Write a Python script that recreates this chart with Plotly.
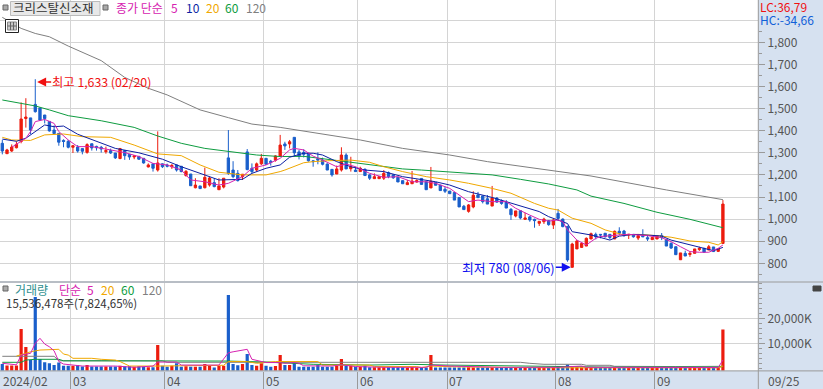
import plotly.graph_objects as go

W, H = 823, 389
opens = [1343,1296,1308,1323,1351,1455,1458,1519,1503,1471,
1442,1403,1388,1356,1352,1325,1326,1319,1302,1341,
1329,1325,1305,1310,1299,1274,1310,1293,1281,1284,
1275,1236,1250,1222,1250,1245,1237,1245,1239,1197,
1204,1142,1150,1142,1154,1165,1133,1145,1277,1222,
1207,1192,1304,1230,1222,1250,1275,1262,1266,1285,
1340,1340,1370,1304,1302,1298,1264,1273,1267,1249,
1225,1204,1222,1290,1228,1222,1215,1225,1200,1183,
1183,1185,1210,1200,1189,1174,1156,1160,1168,1184,
1169,1141,1166,1154,1135,1127,1120,1098,1058,1035,
1055,1109,1105,1092,1059,1095,1083,1077,1044,1014,
1038,999,1010,999,981,988,993,973,1026,1000,
966,782,865,872,878,910,931,931,936,931,
910,945,946,928,928,914,925,916,907,910,
926,908,890,875,816,845,840,845,862,868,
860,874,854,890]
closes = [1308,1313,1326,1338,1453,1462,1403,1486,1448,1455,
1399,1387,1348,1351,1325,1332,1308,1307,1337,1322,
1323,1317,1310,1299,1277,1319,1287,1281,1286,1271,
1254,1245,1230,1254,1237,1239,1243,1222,1215,1216,
1151,1154,1138,1189,1186,1147,1150,1185,1207,1192,
1174,1203,1224,1215,1250,1275,1248,1256,1286,1335,
1331,1350,1300,1285,1293,1264,1260,1267,1248,1222,
1200,1227,1290,1227,1237,1215,1230,1197,1185,1192,
1192,1207,1192,1187,1168,1160,1165,1172,1174,1157,
1133,1171,1153,1129,1126,1115,1086,1055,1043,1064,
1108,1097,1079,1068,1095,1077,1071,1050,1020,1037,
1005,1005,996,993,990,1000,975,996,1003,966,
815,887,901,890,913,934,920,928,920,917,
945,936,925,931,920,925,920,910,917,925,
916,878,869,839,847,833,845,865,868,850,
875,853,865,1068]
highs = [1358,1318,1338,1351,1528,1547,1458,1633,1503,1471,
1442,1424,1388,1361,1358,1335,1335,1319,1343,1341,
1332,1331,1328,1319,1299,1322,1313,1293,1289,1284,
1275,1252,1250,1397,1252,1251,1249,1245,1239,1222,
1204,1185,1150,1233,1192,1185,1185,1185,1403,1262,
1222,1203,1317,1252,1256,1295,1275,1268,1289,1381,
1350,1358,1370,1313,1316,1298,1267,1302,1278,1252,
1225,1242,1325,1298,1282,1237,1237,1230,1203,1207,
1195,1222,1215,1203,1189,1174,1177,1218,1180,1184,
1169,1236,1166,1154,1147,1127,1120,1098,1064,1068,
1126,1123,1105,1109,1150,1100,1089,1086,1050,1037,
1041,1029,1014,1002,991,1006,996,1000,1046,1003,
970,893,905,893,917,939,939,931,936,931,
948,963,951,931,928,928,954,928,919,928,
937,908,895,875,847,857,855,865,875,868,
883,874,868,1086]
lows = [1293,1296,1304,1320,1343,1414,1385,1482,1445,1433,
1396,1387,1332,1325,1320,1299,1301,1293,1296,1310,
1310,1301,1296,1295,1272,1271,1268,1268,1271,1268,
1251,1234,1215,1215,1231,1234,1227,1215,1212,1192,
1150,1139,1138,1139,1147,1144,1132,1139,1200,1185,
1170,1177,1221,1207,1215,1245,1245,1242,1260,1282,
1313,1320,1285,1270,1279,1260,1237,1248,1243,1222,
1192,1204,1215,1227,1215,1215,1215,1197,1177,1182,
1182,1177,1185,1182,1168,1160,1154,1160,1165,1157,
1133,1141,1153,1129,1118,1115,1086,1055,1043,1029,
1049,1097,1071,1068,1059,1074,1065,1050,996,1008,
999,996,988,961,969,978,970,955,993,963,
807,780,865,870,878,910,908,913,917,908,
910,928,920,910,916,905,920,901,906,910,
905,878,865,839,815,833,829,845,856,850,
860,853,851,890]
volumes = [1700,1100,1100,1100,15700,8500,3300,28500,3700,2400,
2000,1300,2300,1000,1000,1000,1300,700,1300,700,
700,700,700,700,700,1000,800,800,600,800,
600,400,400,9300,1000,600,1000,2000,600,800,
600,600,600,1700,900,300,900,1000,29300,1700,
1200,1700,5700,1300,1000,2000,1000,600,900,5300,
1300,1300,2000,600,600,600,600,1300,600,600,
600,900,3700,1000,1000,600,600,1000,400,400,
400,400,400,400,400,400,300,600,300,300,
300,5300,300,300,300,300,300,300,300,400,
300,300,300,300,400,300,300,300,300,300,
300,300,300,300,300,300,300,300,900,300,
1500,400,400,300,300,300,300,300,300,300,
300,300,300,300,300,300,300,300,300,300,
300,300,300,300,300,300,300,300,300,300,
300,300,300,15536]

ma5_x = [2,3,5,6,7,9,11,12,14,16,19,23,26,29,32,35,38,40,43,46,48,51,53,56,59,61,62,64,66,68,71,73,75,78,81,84,87,90,92,95,97,99,101,104,107,109,112,114,116,118,119,120,122,124,125,126,127,129,131,133,137,140,142,144,146,148,150,152,153]
ma5_y = [1325,1340,1366,1396,1441,1451,1433,1396,1358,1328,1328,1313,1301,1283,1252,1245,1222,1177,1169,1154,1162,1192,1230,1245,1275,1313,1320,1313,1285,1267,1237,1249,1237,1207,1189,1192,1169,1169,1162,1139,1109,1079,1086,1079,1079,1049,1018,999,991,996,988,951,905,883,898,913,921,923,928,931,925,916,898,875,853,850,850,868,883]
ma10_x = [0,3,5,7,9,11,13,16,21,24,29,34,38,42,46,51,53,56,59,61,64,66,68,71,74,77,81,85,89,92,95,99,104,107,111,114,116,118,120,121,125,128,129,131,134,139,140,142,145,149,151,153]
ma10_y = [1362,1352,1366,1396,1426,1418,1421,1384,1343,1320,1300,1271,1237,1207,1177,1180,1207,1230,1245,1280,1298,1298,1290,1260,1237,1222,1215,1192,1180,1169,1154,1124,1098,1079,1053,1034,1011,995,980,943,928,911,905,923,931,925,923,905,890,868,857,872]
ma20_x = [0,2,6,9,13,17,23,28,33,38,42,46,51,56,59,60,64,66,69,74,78,81,85,90,95,99,104,108,113,116,118,121,125,128,132,135,139,142,146,150,152,153]
ma20_y = [1370,1358,1356,1381,1385,1373,1370,1335,1295,1287,1245,1212,1200,1200,1215,1222,1255,1260,1264,1267,1257,1237,1215,1192,1177,1162,1139,1117,1071,1049,1041,1004,981,951,928,931,925,918,901,895,883,898]
ma60_x = [0,7,10,14,21,28,33,38,43,49,54,59,64,73,79,85,89,94,100,104,110,116,122,125,132,139,146,151,153]
ma60_y = [1539,1512,1494,1468,1445,1415,1376,1343,1320,1302,1290,1283,1284,1260,1242,1227,1222,1215,1207,1200,1180,1159,1132,1104,1071,1031,999,970,961]
ma120_x = [0,4,7,10,14,21,26,31,35,42,48,53,59,65,76,85,95,103,114,125,141,146,153]
ma120_y = [1913,1863,1840,1825,1783,1717,1641,1592,1562,1494,1459,1430,1415,1396,1358,1320,1290,1260,1228,1195,1132,1113,1088]

vma5_x = [0,3,4,5,6,7,8,9,10,11,12,13,17,24,28,32,33,37,38,46,48,49,52,53,56,59,60,62,63,64,70,72,75,81,87,90,91,94,95,106,116,118,120,121,123,124,140,152,153]
vma5_y = [2000,1400,5300,5700,6000,10000,12000,9700,8600,7000,2700,1700,900,900,400,900,2500,2500,1300,1300,6200,6600,7600,3600,2300,2300,2000,2300,2000,1000,900,1400,700,400,600,400,1300,1200,900,400,300,400,600,800,900,400,300,300,3300]
vma20_x = [3,6,8,12,13,14,15,19,21,24,25,27,33,47,48,52,54,58,67,68,78,79,88,89,91,96,110,116,152,153]
vma20_y = [4900,6600,7300,7600,5700,5300,4000,4000,3600,3300,2700,900,900,1200,2700,2700,2000,2700,2700,1300,1300,700,700,300,900,600,300,200,200,900]
vma60_x = [0,4,5,7,12,13,21,38,47,48,56,59,64,66,78,87,94,108,118,128,152,153]
vma60_y = [2400,2400,3300,3600,3600,3000,3000,3000,3000,2900,2500,2300,2000,1600,1300,1600,1300,900,700,500,500,700]
vma120_x = [0,11,12,34,35,110,112,115,123,124,129,130,143,152,153]
vma120_y = [4800,4800,3000,3000,2400,2400,2000,1600,1600,1200,1200,800,700,700,800]

month_first = [15, 35, 56, 76, 95, 118, 139]
month_labels = ["03", "04", "05", "06", "07", "08", "09"]
price_ticks = [800,900,1000,1100,1200,1300,1400,1500,1600,1700,1800,1900]
price_labels = ["800","900","1,000","1,100","1,200","1,300","1,400","1,500","1,600","1,700","1,800",""]
volume_ticks = [10000, 20000]
volume_labels = ["10,000K", "20,000K"]

RED, BLUE = "#EC1C0E", "#1A5FCB"
MAGENTA, NAVY, ORANGE, GREEN, GRAY = "#D622B0", "#0C1FA3", "#F0A800", "#0E9C40", "#7F7F7F"
GRID, AXIS, TICKTXT = "#D4D4D4", "#9A9A9A", "#555555"
PANEL = "#D6E1F0"
FONT = "Noto Sans CJK KR"
X = list(range(len(opens)))

fig = go.Figure()
fig.add_trace(go.Candlestick(x=X, open=opens, high=highs, low=lows, close=closes,
    increasing=dict(line=dict(color=RED, width=1), fillcolor=RED),
    decreasing=dict(line=dict(color=BLUE, width=1), fillcolor=BLUE),
    whiskerwidth=0, xaxis="x", yaxis="y", showlegend=False))
for xs, ys, c in [(ma120_x, ma120_y, GRAY), (ma60_x, ma60_y, GREEN), (ma20_x, ma20_y, ORANGE),
                  (ma10_x, ma10_y, NAVY), (ma5_x, ma5_y, MAGENTA)]:
    fig.add_trace(go.Scatter(x=xs, y=ys, mode="lines", line=dict(color=c, width=1),
                             xaxis="x", yaxis="y", showlegend=False))

VOL_BASE = -960
fig.add_trace(go.Bar(x=X, y=[v - VOL_BASE for v in volumes], base=VOL_BASE, width=0.68,
    marker=dict(color=[RED if c >= o else BLUE for o, c in zip(opens, closes)], line=dict(width=0)),
    xaxis="x2", yaxis="y2", showlegend=False))
for xs, ys, c in [(vma120_x, vma120_y, GRAY), (vma60_x, vma60_y, GREEN),
                  (vma20_x, vma20_y, ORANGE), (vma5_x, vma5_y, MAGENTA)]:
    fig.add_trace(go.Scatter(x=xs, y=ys, mode="lines", line=dict(color=c, width=1),
                             xaxis="x2", yaxis="y2", showlegend=False))

def px(x): return x / W
def py(y): return 1 - y / H

def label(x, y, text, color, size=12, anchor="left", **kw):
    return dict(xref="paper", yref="paper", x=px(x), y=py(y), text=text, showarrow=False,
                xanchor=anchor, yanchor="middle", font=dict(family=FONT, size=size, color=color),
                borderpad=0, **kw)

ann = [
    label(12, 8, "크리스탈신소재", "#333333", 12.5),
    label(115, 7.5, "종가 단순", MAGENTA, 12),
    label(170, 7.5, "5", MAGENTA, 12), label(185, 7.5, "10", NAVY, 12),
    label(205, 7.5, "20", ORANGE, 12), label(224, 7.5, "60", GREEN, 12),
    label(245, 7.5, "120", GRAY, 12),
    label(14, 289, "거래량", "#2F8F8F", 12), label(58, 289, "단순", MAGENTA, 12),
    label(86, 289, "5", MAGENTA, 12), label(100, 289, "20", ORANGE, 12),
    label(120, 289, "60", GREEN, 12), label(141, 289, "120", GRAY, 12),
    label(5, 303, "15,536,478주(7,824,65%)", "#333333", 11.5),
    label(759, 6, "LC:36,79", "#F01010", 12),
    label(759, 19, "HC:-34,66", "#1060D8", 12),
    label(2, 380.5, "2024/02", TICKTXT, 12),
    label(767, 380.5, "09/25", TICKTXT, 12),
    dict(xref="x", yref="y", x=7.4, y=1620, ax=14, ay=0, text="최고 1,633 (02/20)", showarrow=True,
         arrowhead=2, arrowsize=1.2, arrowwidth=1.5, arrowcolor="#F01010", xanchor="left", yanchor="middle",
         borderpad=0, font=dict(family=FONT, size=12.3, color="#F01010")),
    dict(xref="x", yref="y", x=120.7, y=782, ax=-15, ay=0, text="최저 780 (08/06)", showarrow=True,
         arrowhead=2, arrowsize=1.2, arrowwidth=1.5, arrowcolor="#1010F0", xanchor="right", yanchor="middle",
         borderpad=0, font=dict(family=FONT, size=12.8, color="#1010F0")),
]
for m, t in zip(month_first, month_labels):
    ann.append(dict(xref="x2", yref="paper", x=m - 0.5, y=py(380.5), text=t, showarrow=False,
                    xanchor="left", yanchor="middle", xshift=1, borderpad=0,
                    font=dict(family=FONT, size=12, color=TICKTXT)))

def rect(x0, y0, x1, y1, fill, line=None, width=1, layer="above"):
    return dict(type="rect", xref="paper", yref="paper", x0=px(x0), x1=px(x1), y0=py(y0), y1=py(y1),
                fillcolor=fill, line=dict(color=line or fill, width=width), layer=layer)

def hline(x0, x1, y, color):
    return dict(type="line", xref="paper", yref="paper", x0=px(x0), x1=px(x1), y0=py(y), y1=py(y),
                line=dict(color=color, width=1))

def vline(x, y0, y1, color):
    return dict(type="line", xref="paper", yref="paper", x0=px(x), x1=px(x), y0=py(y0), y1=py(y1),
                line=dict(color=color, width=1))

shapes = [
    rect(3, 5, 8, 10, "#AAAAAA", "#666666"),
    rect(10.5, 1.5, 100, 15.5, "#E8E8E8", "#BBBBBB"),
    rect(103, 5, 108, 10, "#AAAAAA", "#666666"),
    rect(5.5, 19.5, 18.5, 32.5, "#FFFFFF", "#222222"),
    rect(7.5, 22, 16.5, 30, "#C8C8C8", "#888888"),
    vline(10.5, 22, 30, "#666666"), vline(13.5, 22, 30, "#666666"), hline(7.5, 16.5, 26, "#666666"),
    rect(3, 286, 8, 291, "#AAAAAA", "#666666"),
    rect(813, 286, 821, 291, "#444444"),
    rect(759.5, 0, 767, 27, PANEL),
    hline(0, 823, 282, AXIS),
    hline(0, 823, 370.9, AXIS),
    vline(758.3, 0, 389, AXIS),
]

fig.update_layout(
    width=W, height=H, autosize=False, margin=dict(l=0, r=0, t=0, b=0),
    paper_bgcolor=PANEL, plot_bgcolor="#FFFFFF", showlegend=False, hovermode=False,
    boxgap=0.3, bargap=0.3, annotations=ann, shapes=shapes,
    xaxis=dict(domain=[0, 758 / W], range=[-0.488, 160.45], anchor="y", rangeslider=dict(visible=False),
               tickmode="array", tickvals=[m - 0.5 for m in month_first], ticks="",
               showticklabels=False, showgrid=True, gridcolor=GRID, gridwidth=1, zeroline=False),
    yaxis=dict(domain=[1 - 281 / H, 1], range=[719.9, 1991.4], side="right", anchor="x",
               tickmode="array", tickvals=price_ticks, ticktext=price_labels, ticks="outside",
               ticklen=6, tickcolor=AXIS, tickwidth=1,
               minor=dict(dtick=50, ticks="outside", ticklen=3, tickcolor=AXIS, tick0=750, showgrid=False),
               tickfont=dict(family=FONT, size=12, color=TICKTXT),
               showgrid=True, gridcolor=GRID, gridwidth=1, zeroline=False),
    xaxis2=dict(domain=[0, 758 / W], range=[-0.488, 160.45], anchor="y2",
                tickmode="array", tickvals=[m - 0.5 for m in month_first], ticks="outside", ticklen=18,
                tickcolor=AXIS, tickwidth=1, showticklabels=False, showgrid=True, gridcolor=GRID, zeroline=False),
    yaxis2=dict(domain=[1 - 370.7 / H, 1 - 283 / H], range=[-960, 34120], side="right", anchor="x2",
                tickmode="array", tickvals=volume_ticks, ticktext=volume_labels, ticks="outside",
                ticklen=6, tickcolor=AXIS, tickwidth=1,
                minor=dict(dtick=2000, ticks="outside", ticklen=3, tickcolor=AXIS, showgrid=False),
                tickfont=dict(family=FONT, size=12, color=TICKTXT),
                showgrid=True, gridcolor=GRID, gridwidth=1, zeroline=False),
)
fig.write_html("out.html", config={"displayModeBar": False},
               post_script="document.body.style.margin='0';document.documentElement.style.overflow='hidden';")
